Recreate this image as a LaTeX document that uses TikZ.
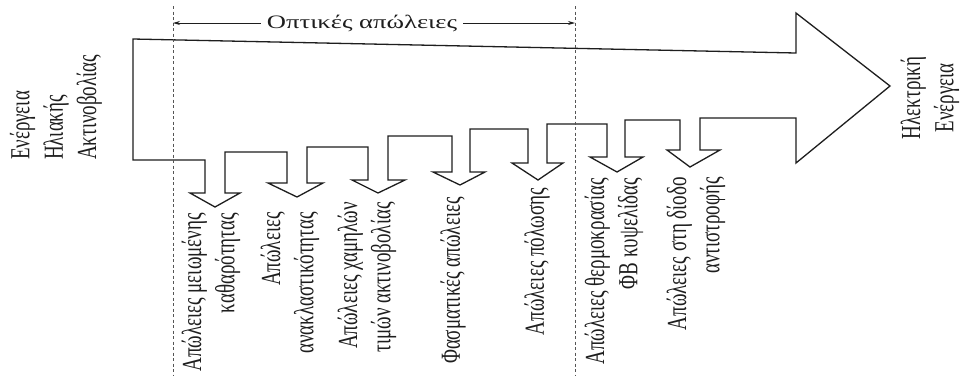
\documentclass[tikz,border=0pt]{standalone}
\usepackage{fontspec}
\setmainfont{Liberation Serif}
\usetikzlibrary{arrows.meta}
\definecolor{ink}{HTML}{1E1E1E}
\definecolor{dashink}{HTML}{555555}
\tikzset{
  outline/.style={draw=ink, line width=1.3pt, line join=miter},
  guide/.style={draw=dashink, line width=0.9pt, dash pattern=on 3pt off 2.5pt},
  lbl/.style={font=\fontsize{19}{23}\selectfont, text=ink, inner sep=0pt},
  vlbl/.style={lbl, rotate=90, yscale=1.45},
  hang/.style={vlbl, anchor=east, align=right},
  dimarrow/.style={draw=ink, line width=0.8pt, -{Stealth[length=7pt,width=4pt]}}
}
\begin{document}
\begin{tikzpicture}[x=1pt, y=-1pt]
\useasboundingbox (0,0) rectangle (962,376);
\fill[white] (0,0) rectangle (962,376);

% big arrow with its staircase of loss arrows
\draw[outline] (133,39) -- (796,53) -- (796,13) -- (890,86) -- (796,163) -- (796,118)
  -- (700,118) -- (700,150) -- (720,150) -- (690,167) -- (667,150) -- (680,150) -- (680,120)
  -- (625,120) -- (625,157) -- (643,157) -- (617,172) -- (590,157) -- (607,157) -- (607,124)
  -- (547,124) -- (547,163) -- (563,163) -- (538,180) -- (512,163) -- (528,163) -- (528,129)
  -- (470,129) -- (470,172) -- (485,172) -- (460,185) -- (433,172) -- (452,172) -- (452,136)
  -- (388,136) -- (388,180) -- (405,180) -- (378,193) -- (352,180) -- (368,180) -- (368,147)
  -- (307,147) -- (307,183) -- (323,183) -- (297,197) -- (268,183) -- (287,183) -- (287,152)
  -- (225,152) -- (225,193) -- (240,193) -- (215,207) -- (190,193) -- (205,193) -- (205,160)
  -- (133,160) -- cycle;

% dashed guides
\coordinate (gLt) at (173,6);
\coordinate (gLb) at (173,376);
\coordinate (gRt) at (575,6);
\coordinate (gRb) at (575,376);
\draw[guide] (gLt) -- (gLb);
\draw[guide] (gRt) -- (gRb);

% optical losses dimension
\node[lbl, xscale=1.4] (opt) at (362,23) {Οπτικές απώλειες};
\coordinate (oL) at (173,23);
\coordinate (oR) at (575,23);
\draw[dimarrow] (opt.west) ++(-6,0) -- (oL);
\draw[dimarrow] (opt.east) ++(6,0) -- (oR);

% input and output
\node[vlbl, anchor=west, align=left] (inp) at (56,160) {Ενέργεια\\Ηλιακής\\Ακτινοβολίας};
\node[vlbl, anchor=center, align=center] (outp) at (930,98) {Ηλεκτρική\\Ενέργεια};

% loss labels
\node[hang] (l1) at (211,213) {Απώλειες μειωμένης\\καθαρότητας};
\node[hang] (l2) at (290,212) {Απώλειες\\ανακλαστικότητας};
\node[hang] (l3) at (367,202) {Απώλειες χαμηλών\\τιμών ακτινοβολίας};
\node[hang] (l4) at (453,197) {Φασματικές απώλειες};
\node[hang] (l5) at (537,188) {Απώλειες πόλωσης};
\node[hang] (l6) at (614,178) {Απώλειες θερμοκρασίας\\ΦΒ κυψελίδας};
\node[hang] (l7) at (696,177) {Απώλειες στη δίοδο\\αντιστροφής};
\end{tikzpicture}
\end{document}
